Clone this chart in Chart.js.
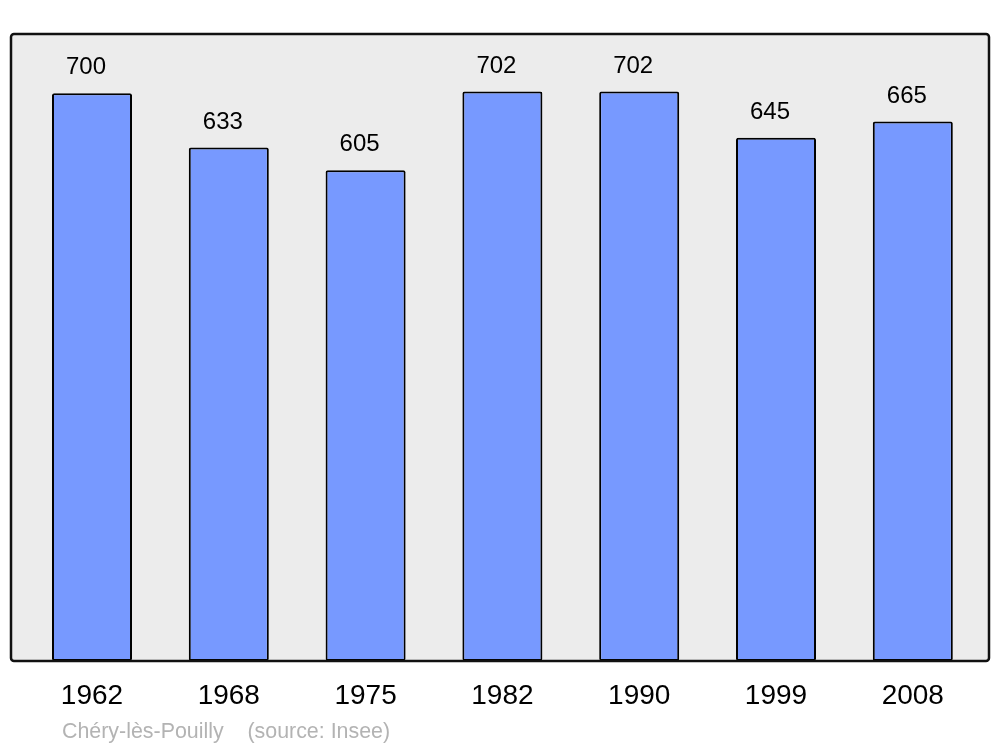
<!DOCTYPE html>
<html>
<head>
<meta charset="utf-8">
<script src="https://cdn.jsdelivr.net/npm/chart.js@4"></script>
<style>
  html, body { margin: 0; padding: 0; background: #fff; }
  #wrap { width: 1000px; height: 747px; }
</style>
</head>
<body>
<div id="wrap"><canvas id="chart" width="1000" height="747"></canvas></div>
<script>
// Population by census year
const years = ["1962", "1968", "1975", "1982", "1990", "1999", "2008"];
const population = [700, 633, 605, 702, 702, 645, 665];
const sourceText = "Chéry-lès-Pouilly    (source: Insee)";

const FONT = "'Liberation Sans', Arial, sans-serif";

// Gray panel with rounded frame, drawn around the chart area
const framePlugin = {
    id: 'frame',
    beforeDatasetsDraw(chart) {
        const { ctx, chartArea } = chart;
        const x = chartArea.left - 12.6, y = chartArea.top;
        const w = chartArea.right + 7.8 - x, h = chartArea.bottom - y;
        ctx.save();
        ctx.beginPath();
        ctx.roundRect(x, y, w, h, 3);
        ctx.fillStyle = '#ececec';
        ctx.fill();
        ctx.restore();
    },
    afterDatasetsDraw(chart) {
        const { ctx, chartArea } = chart;
        const x = chartArea.left - 12.6, y = chartArea.top;
        const w = chartArea.right + 7.8 - x, h = chartArea.bottom - y;
        ctx.save();
        // value labels above bars
        const meta = chart.getDatasetMeta(0);
        ctx.font = '24px ' + FONT;
        ctx.fillStyle = '#000';
        ctx.textAlign = 'center';
        ctx.textBaseline = 'alphabetic';
        meta.data.forEach((bar, i) => {
            ctx.fillText(String(population[i]), bar.x - 6, bar.y - 19);
        });
        // frame
        ctx.beginPath();
        ctx.roundRect(x, y, w, h, 3);
        ctx.lineWidth = 2.5;
        ctx.strokeStyle = '#111';
        ctx.stroke();
        // source line
        ctx.font = '21.4px ' + FONT;
        ctx.fillStyle = '#b3b3b3';
        ctx.textAlign = 'left';
        ctx.fillText(sourceText, 62, 738);
        ctx.restore();
    }
};

new Chart(document.getElementById('chart'), {
    type: 'bar',
    data: {
        labels: years,
        datasets: [{
            data: population,
            backgroundColor: '#7799ff',
            borderColor: '#000',
            borderWidth: 2,
            borderRadius: 2,
            borderSkipped: false,
            barPercentage: 0.585,
            categoryPercentage: 1
        }]
    },
    options: {
        responsive: false,
        animation: false,
        layout: { padding: { left: 23.6, right: 18.8, top: 34, bottom: 16.4 } },
        plugins: { legend: { display: false }, tooltip: { enabled: false } },
        scales: {
            y: { display: false, min: 0, max: 773 },
            x: {
                grid: { display: false, drawTicks: false },
                border: { display: false },
                ticks: {
                    color: '#000',
                    padding: 18,
                    font: { family: FONT, size: 28 }
                }
            }
        }
    },
    plugins: [framePlugin]
});
</script>
</body>
</html>
